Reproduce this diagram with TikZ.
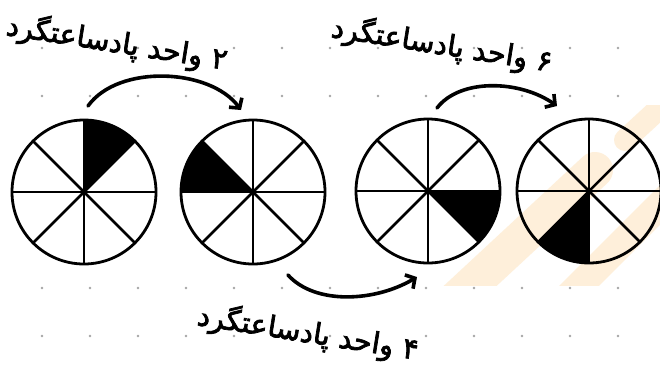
\documentclass[tikz,border=0pt]{standalone}
\usepackage{fontspec}
\newfontfamily\arabicfont[Script=Arabic,FakeBold=2.5]{DejaVu Sans}
\TeXXeTstate=1
\usetikzlibrary{arrows.meta}
\definecolor{wm}{RGB}{254,239,218}
\definecolor{dotgray}{RGB}{165,165,165}
\begin{document}
\begin{tikzpicture}[x=1pt,y=-1pt,
  wheel/.style={circle, draw, line width=2.8pt, minimum size=144pt, inner sep=0pt},
  spoke/.style={line width=2.5pt},
  arr/.style={line width=3.6pt, line cap=round, -{Straight Barb[length=7pt,width=16pt,line width=3.6pt]}},
  persian/.style={font=\arabicfont\fontsize{29}{32}\selectfont, inner sep=0pt}]
\useasboundingbox (0,0) rectangle (660,373);
\fill[white] (0,0) rectangle (660,373);
% dot grid
\foreach \yy in {48,96,288,336}
  \foreach \k in {0,...,13}
    \fill[dotgray] (42+48*\k,\yy) circle (1.4);
% watermark
\begin{scope}
  \clip (0,105) rectangle (660,285);
  \draw[wm, line width=36pt, line cap=round] (455,300) -- (595,170);
  \draw[wm, line width=28pt, line cap=round] (565,300) -- (690,175);
  \draw[wm, line width=22pt, line cap=round] (625,140) -- (690,80);
\end{scope}
% wheels
\node[wheel] (c1) at (84,192) {};
\node[wheel] (c2) at (253,192) {};
\node[wheel] (c3) at (428,191) {};
\node[wheel] (c4) at (589,191) {};
\fill (c1.center) -- +(-45:72) arc[start angle=-45, end angle=-90, radius=72] -- cycle;
\fill (c2.center) -- +(-135:72) arc[start angle=-135, end angle=-180, radius=72] -- cycle;
\fill (c3.center) -- +(0:72) arc[start angle=0, end angle=45, radius=72] -- cycle;
\fill (c4.center) -- +(90:72) arc[start angle=90, end angle=135, radius=72] -- cycle;
\foreach \c in {c1,c2,c3,c4}
  \foreach \a in {0,45,...,315}
    \draw[spoke] (\c.center) -- +(\a:72);
% arrows
\coordinate (a1s) at (88,106);
\coordinate (a1e) at (241,110);
\coordinate (a2s) at (437,108);
\coordinate (a2e) at (557,106);
\coordinate (a3s) at (288,275);
\coordinate (a3e) at (417,277);
\draw[arr] (a1s) .. controls (118,64) and (210,68) .. (a1e);
\draw[arr] (a2s) .. controls (460,78) and (520,80) .. (a2e);
\draw[arr] (a3s) .. controls (315,305) and (375,302) .. (a3e);
% labels
\node[persian, rotate=-9] (t1) at (117,43) {\beginR ۲ واحد پادساعتگرد\endR};
\node[persian, rotate=-9] (t2) at (442,45) {\beginR ۶ واحد پادساعتگرد\endR};
\node[persian, rotate=-9] (t3) at (308,333) {\beginR ۴ واحد پادساعتگرد\endR};
\end{tikzpicture}
\end{document}
